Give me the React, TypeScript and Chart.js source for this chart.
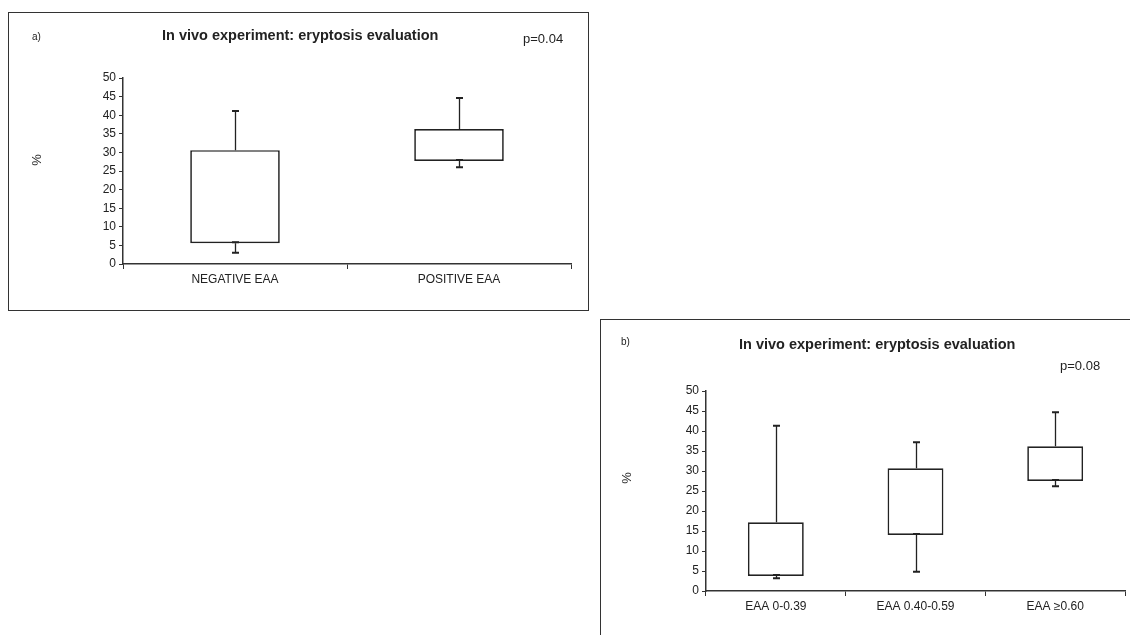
import React, { useEffect, useRef } from 'react';
import { Chart, registerables } from 'chart.js';

Chart.register(...registerables);

// ---------- data ----------
const categoriesA = ['NEGATIVE EAA', 'POSITIVE EAA'];
const boxLowA = [5.6, 27.7];
const boxHighA = [30.6, 36.3];
const whiskerMinA = [3.0, 26.0];
const whiskerMaxA = [41.1, 44.6];

const categoriesB = ['EAA 0-0.39', 'EAA 0.40-0.59', 'EAA ≥0.60'];
const boxLowB = [3.75, 14.0, 27.5];
const boxHighB = [17.2, 30.7, 36.2];
const whiskerMinB = [3.2, 4.8, 26.2];
const whiskerMaxB = [41.3, 37.2, 44.7];

const yMin = 0;
const yMax = 50;
const yStep = 5;

const titleText = 'In vivo experiment: eryptosis evaluation';
const pValueA = 'p=0.04';
const pValueB = 'p=0.08';

const FONT = "'Liberation Sans', Arial, Helvetica, sans-serif";
const INK = '#222';

const whiskerPlugin = {
  id: 'whiskers',
  afterDatasetsDraw(chart: any) {
    const ctx = chart.ctx;
    const meta = chart.getDatasetMeta(0);
    const ds = chart.data.datasets[0] as any;
    const y = chart.scales.y;
    const mins: number[] = ds.whiskerMin;
    const maxs: number[] = ds.whiskerMax;
    const capHalf = 3.5;
    ctx.save();
    ctx.strokeStyle = INK;
    meta.data.forEach((bar: any, i: number) => {
      const [lo, hi] = ds.data[i];
      const x = Math.round(bar.x) + 0.5;
      const pHi = y.getPixelForValue(hi);
      const pLo = y.getPixelForValue(lo);
      const pMax = y.getPixelForValue(maxs[i]);
      const pMin = y.getPixelForValue(mins[i]);
      ctx.lineWidth = 1.3;
      ctx.beginPath();
      ctx.moveTo(x, pHi);
      ctx.lineTo(x, pMax);
      ctx.moveTo(x, pLo);
      ctx.lineTo(x, pMin);
      ctx.stroke();
      ctx.lineWidth = 2;
      ctx.beginPath();
      ctx.moveTo(x - capHalf, pMax);
      ctx.lineTo(x + capHalf, pMax);
      ctx.moveTo(x - capHalf, pMin);
      ctx.lineTo(x + capHalf, pMin);
      ctx.moveTo(x - capHalf, pLo - 1);
      ctx.lineTo(x + capHalf, pLo - 1);
      ctx.stroke();
    });
    ctx.restore();
  },
};

type BoxProps = {
  categories: string[];
  low: number[];
  high: number[];
  wMin: number[];
  wMax: number[];
  left: number;
  top: number;
  width: number;
  height: number;
  padding: { left: number; right: number; top: number; bottom: number };
};

function BoxChart(props: BoxProps) {
  const ref = useRef<HTMLCanvasElement | null>(null);
  useEffect(() => {
    if (!ref.current) return;
    const chart = new Chart(ref.current, {
      type: 'bar',
      data: {
        labels: props.categories,
        datasets: [
          {
            data: props.low.map((v, i) => [v, props.high[i]]),
            backgroundColor: '#ffffff',
            borderColor: INK,
            borderWidth: 1.7,
            borderSkipped: false,
            barPercentage: 0.4,
            categoryPercentage: 1,
            whiskerMin: props.wMin,
            whiskerMax: props.wMax,
          } as any,
        ],
      },
      options: {
        responsive: false,
        animation: false,
        events: [],
        layout: { padding: props.padding },
        plugins: {
          legend: { display: false },
          tooltip: { enabled: false },
          title: { display: false },
        },
        scales: {
          x: {
            offset: true,
            grid: {
              offset: true,
              drawOnChartArea: false,
              drawTicks: true,
              tickLength: 5,
              color: '#333',
              lineWidth: 1,
            },
            border: { color: '#333', width: 1.5 },
            ticks: {
              font: { family: FONT, size: 12 },
              color: INK,
              padding: 3,
              maxRotation: 0,
              autoSkip: false,
            },
            afterFit: (s: any) => {
              s.height = 30;
            },
          },
          y: {
            min: yMin,
            max: yMax,
            ticks: {
              stepSize: yStep,
              font: { family: FONT, size: 12 },
              color: INK,
              padding: 3,
            },
            grid: {
              drawOnChartArea: false,
              drawTicks: true,
              tickLength: 4,
              color: '#333',
              lineWidth: 1,
            },
            border: { color: '#333', width: 1.5 },
            afterFit: (s: any) => {
              s.width = 50;
            },
          },
        },
      },
      plugins: [whiskerPlugin],
    });
    return () => chart.destroy();
  }, []);
  return (
    <canvas
      ref={ref}
      width={props.width}
      height={props.height}
      style={{
        position: 'absolute',
        left: props.left,
        top: props.top,
        width: props.width,
        height: props.height,
      }}
    />
  );
}

function Text(props: {
  x: number;
  cy: number;
  size: number;
  bold?: boolean;
  children: React.ReactNode;
}) {
  const lh = props.size + 4;
  return (
    <div
      style={{
        position: 'absolute',
        left: props.x,
        top: props.cy - lh / 2,
        fontFamily: FONT,
        fontSize: props.size,
        fontWeight: props.bold ? 'bold' : 'normal',
        lineHeight: `${lh}px`,
        whiteSpace: 'nowrap',
        color: INK,
      }}
    >
      {props.children}
    </div>
  );
}

function Percent(props: { cx: number; cy: number }) {
  return (
    <div
      style={{
        position: 'absolute',
        left: props.cx - 10,
        top: props.cy - 10,
        width: 20,
        height: 20,
        lineHeight: '20px',
        textAlign: 'center',
        fontFamily: FONT,
        fontSize: 13,
        color: INK,
        transform: 'rotate(-90deg)',
      }}
    >
      %
    </div>
  );
}

export default function App() {
  return (
    <div
      style={{
        position: 'fixed',
        left: 0,
        top: 0,
        width: 1130,
        height: 635,
        background: '#ffffff',
        overflow: 'hidden',
      }}
    >
      {/* panel a frame */}
      <div
        style={{
          position: 'absolute',
          left: 8,
          top: 12,
          width: 581,
          height: 299,
          boxSizing: 'border-box',
          border: '1.5px solid #333',
        }}
      />
      {/* panel b frame */}
      <div
        style={{
          position: 'absolute',
          left: 600,
          top: 319,
          width: 600,
          height: 400,
          boxSizing: 'border-box',
          borderLeft: '1.5px solid #333',
          borderTop: '1.5px solid #333',
        }}
      />

      <BoxChart
        categories={categoriesA}
        low={boxLowA}
        high={boxHighA}
        wMin={whiskerMinA}
        wMax={whiskerMaxA}
        left={0}
        top={0}
        width={590}
        height={315}
        padding={{ left: 73, right: 19, top: 78, bottom: 21 }}
      />
      <BoxChart
        categories={categoriesB}
        low={boxLowB}
        high={boxHighB}
        wMin={whiskerMinB}
        wMax={whiskerMaxB}
        left={600}
        top={319}
        width={530}
        height={316}
        padding={{ left: 56, right: 5, top: 72, bottom: 14 }}
      />

      <Text x={32} cy={37} size={10}>a)</Text>
      <Text x={162} cy={35} size={14.5} bold>{titleText}</Text>
      <Text x={523} cy={38} size={13}>{pValueA}</Text>
      <Percent cx={37} cy={160} />

      <Text x={621} cy={342} size={10}>b)</Text>
      <Text x={739} cy={344} size={14.5} bold>{titleText}</Text>
      <Text x={1060} cy={365} size={13}>{pValueB}</Text>
      <Percent cx={627} cy={478} />
    </div>
  );
}
